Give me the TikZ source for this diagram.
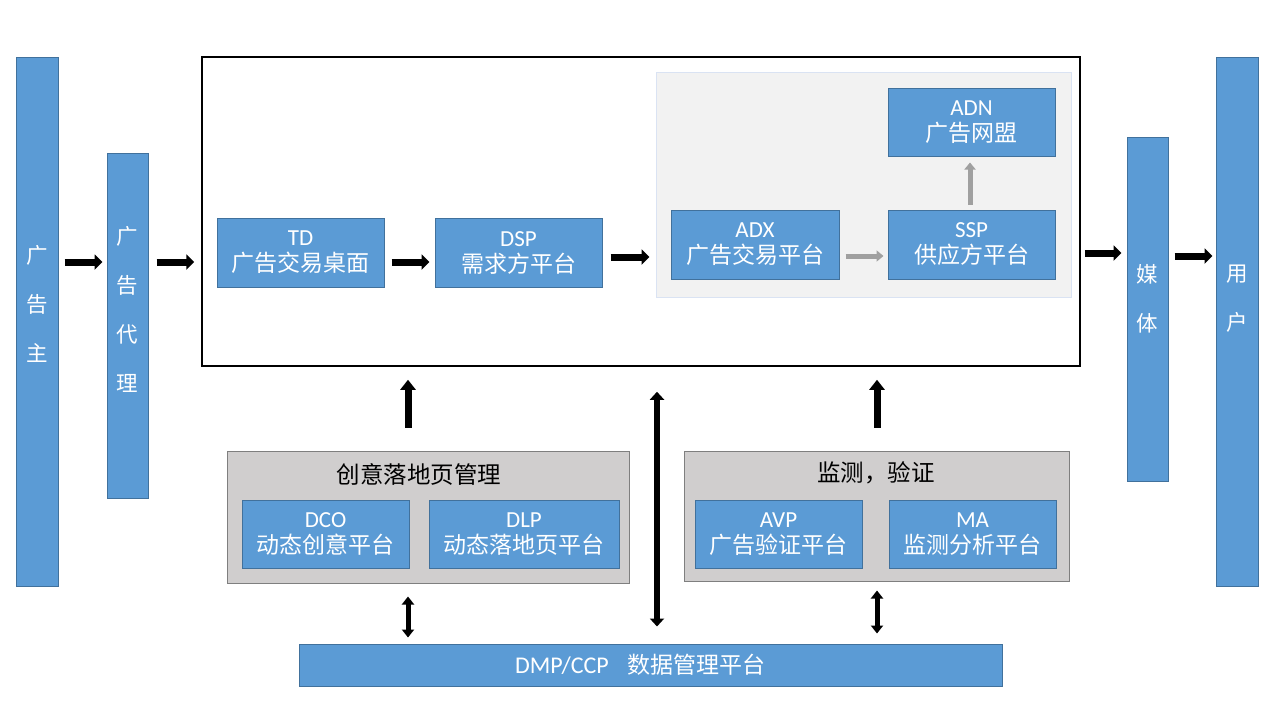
\documentclass[tikz,border=0pt]{standalone}
\usepackage{fontspec}
\setmainfont{Carlito}
\newfontfamily\cjk{Noto Sans CJK SC}
\usetikzlibrary{arrows.meta}
\definecolor{blueF}{HTML}{5B9BD5}
\definecolor{blueD}{HTML}{41719C}
\definecolor{grayF}{HTML}{D0CECE}
\definecolor{grayD}{HTML}{7F7F7F}
\definecolor{panelF}{HTML}{F2F2F2}
\definecolor{panelD}{HTML}{DAE3F3}
\definecolor{arrG}{HTML}{A0A0A0}
\begin{document}
\begin{tikzpicture}[x=1pt,y=-1pt,
  bluebox/.style={draw=blueD, fill=blueF, line width=1pt, inner sep=0pt, text=white, align=center, font=\fontsize{23}{26}\selectfont},
  bar/.style={draw=blueD, fill=blueF, line width=1pt, inner sep=0pt},
  vtext/.style={text=white, align=center, font=\cjk\fontsize{21.5}{49}\selectfont, inner sep=0pt},
  graybox/.style={draw=grayD, fill=grayF, line width=1pt, inner sep=0pt},
  grptitle/.style={font=\cjk\fontsize{23.5}{26}\selectfont, inner sep=0pt},
  harrow/.style={line width=7pt, -{Triangle[length=8pt,width=15pt]}},
  varrow/.style={line width=7pt, -{Triangle[length=10pt,width=15pt]}},
  biarrow/.style={line width=5pt, {Triangle[length=8pt,width=12pt]}-{Triangle[length=8pt,width=12pt]}},
  longbi/.style={line width=6pt, {Triangle[length=8pt,width=14pt]}-{Triangle[length=8pt,width=14pt]}},
  grayarrow/.style={draw=arrG, line width=5pt, -{Triangle[length=7pt,width=11pt]}}
]
\useasboundingbox (0,0) rectangle (1268,710);

% side bars
\node[bar, minimum width=42pt, minimum height=529pt] (adv) at (37,321.5) {};
\node[vtext] (advt) at (37,304) {广\\告\\主};
\node[bar, minimum width=41pt, minimum height=345pt] (agency) at (127.5,325.5) {};
\node[vtext] (agencyt) at (127.5,309) {广\\告\\代\\理};
\node[bar, minimum width=41pt, minimum height=344pt] (media) at (1147.5,309) {};
\node[vtext] (mediat) at (1147.5,299) {媒\\体};
\node[bar, minimum width=42pt, minimum height=529pt] (user) at (1237,321.5) {};
\node[vtext] (usert) at (1237,299) {用\\户};

% main box
\node[draw=black, line width=1.5pt, fill=white, minimum width=878pt, minimum height=309pt, inner sep=0pt] (big) at (641,211.5) {};
\node[draw=panelD, fill=panelF, line width=1pt, minimum width=415pt, minimum height=225pt, inner sep=0pt] (panel) at (863.5,184.5) {};

\node[bluebox, minimum width=167pt, minimum height=69pt] (td) at (300.5,252.5) {TD\\{\cjk 广告交易桌面}};
\node[bluebox, minimum width=167pt, minimum height=69pt] (dsp) at (518.5,252.5) {DSP\\{\cjk 需求方平台}};
\node[bluebox, minimum width=168pt, minimum height=69pt] (adx) at (755,244.5) {ADX\\{\cjk 广告交易平台}};
\node[bluebox, minimum width=167pt, minimum height=69pt] (ssp) at (971.5,244.5) {SSP\\{\cjk 供应方平台}};
\node[bluebox, minimum width=167pt, minimum height=68pt] (adn) at (971.5,122) {ADN\\{\cjk 广告网盟}};

% lower groups
\node[graybox, minimum width=402pt, minimum height=132pt] (cre) at (428,517) {};
\node[grptitle] (cret) at (419,474) {创意落地页管理};
\node[bluebox, minimum width=167pt, minimum height=68pt] (dco) at (325.5,534) {DCO\\{\cjk 动态创意平台}};
\node[bluebox, minimum width=190pt, minimum height=68pt] (dlp) at (524,534) {DLP\\{\cjk 动态落地页平台}};

\node[graybox, minimum width=385pt, minimum height=130pt] (mon) at (876.5,516) {};
\node[grptitle] (mont) at (876,473) {监测，验证};
\node[bluebox, minimum width=167pt, minimum height=68pt] (avp) at (778.5,534) {AVP\\{\cjk 广告验证平台}};
\node[bluebox, minimum width=167pt, minimum height=68pt] (ma) at (972.5,534) {MA\\{\cjk 监测分析平台}};

\node[bluebox, minimum width=703pt, minimum height=42pt, font=\fontsize{24}{26}\selectfont] (dmp) at (650.5,665) {DMP/CCP\hspace{0.8em}{\cjk\fontsize{23}{26}\selectfont 数据管理平台}\hspace{20pt}};

% arrow rows / columns
\coordinate (r1) at (0,262);
\coordinate (r2) at (0,257);
\coordinate (r3) at (0,256);
\coordinate (r4) at (0,253);
\coordinate (c1) at (408,0);
\coordinate (c2) at (877,0);
\coordinate (c3) at (657,0);
\coordinate (c4) at (970,0);

\draw[harrow, shorten <=6pt, shorten >=4pt] (adv.east |- r1) -- (agency.west |- r1);
\draw[harrow, shorten <=8pt, shorten >=7pt] (agency.east |- r1) -- (big.west |- r1);
\draw[harrow, shorten <=7pt, shorten >=5pt] (td.east |- r1) -- (dsp.west |- r1);
\draw[harrow, shorten <=8pt, shorten >=6pt] (dsp.east |- r2) -- (panel.west |- r2);
\draw[grayarrow, shorten <=6pt, shorten >=4pt] (adx.east |- r3) -- (ssp.west |- r3);
\draw[grayarrow, shorten <=5pt, shorten >=6pt] (ssp.north -| c4) -- (adn.south -| c4);
\draw[harrow, shorten <=4pt, shorten >=5pt] (big.east |- r4) -- (media.west |- r4);
\draw[harrow, shorten <=6pt, shorten >=3pt] (media.east |- r3) -- (user.west |- r3);

\draw[varrow, shorten <=23pt, shorten >=13pt] (cre.north -| c1) -- (big.south -| c1);
\draw[varrow, shorten <=23pt, shorten >=13pt] (mon.north -| c2) -- (big.south -| c2);
\draw[biarrow, shorten <=13pt, shorten >=6pt] (cre.south -| c1) -- (dmp.north -| c1);
\draw[biarrow, shorten <=9pt, shorten >=10pt] (mon.south -| c2) -- (dmp.north -| c2);
\draw[longbi, shorten <=25pt, shorten >=17pt] (big.south -| c3) -- (dmp.north -| c3);
\end{tikzpicture}
\end{document}
